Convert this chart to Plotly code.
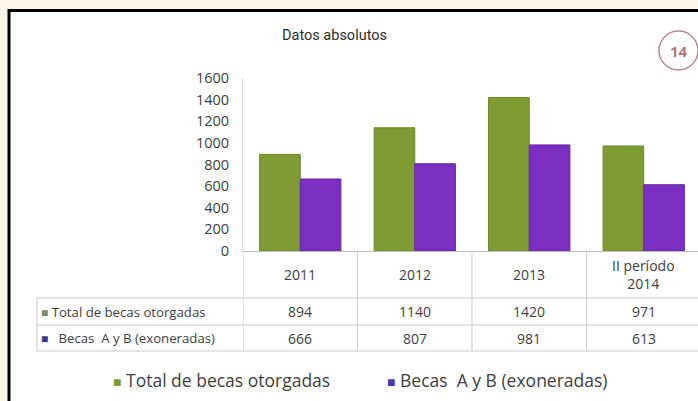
import plotly.graph_objects as go

# Data
years = ["2011", "2012", "2013", "II período<br>2014"]
total_becas = [894, 1140, 1420, 971]
becas_ab = [666, 807, 981, 613]
series_names = ["Total de becas otorgadas", "Becas&nbsp;&nbsp;A y B (exoneradas)"]
y_ticks = [0, 200, 400, 600, 800, 1000, 1200, 1400, 1600]

W, H = 698, 401
GREEN = "#7e9b34"
PURPLE = "#7a2fc1"
TEXT = "#404040"
GRID = "#c9c9c9"
FONT = "'Open Sans', Lato, sans-serif"


def py(px):
    """pixel row -> paper y"""
    return 1 - px / H


def px_x(px):
    return px / W


x_idx = list(range(len(years)))

fig = go.Figure()
fig.add_trace(go.Bar(
    x=x_idx, y=total_becas, name=series_names[0],
    marker=dict(color=GREEN, line=dict(color="#6c8a28", width=1)),
))
fig.add_trace(go.Bar(
    x=x_idx, y=becas_ab, name=series_names[1],
    marker=dict(color=PURPLE, line=dict(color="#6724a8", width=1)),
))

shapes = []
annotations = []

# white panel with black frame on the cream page
shapes.append(dict(type="rect", xref="paper", yref="paper",
                   x0=px_x(9), x1=px_x(W + 20), y0=py(H + 20), y1=py(10.5),
                   fillcolor="white", line=dict(color="black", width=3),
                   layer="below"))

# data table grid
row_lines = [298, 325, 351]
for r in row_lines:
    shapes.append(dict(type="line", xref="paper", yref="paper",
                       x0=px_x(37), x1=1, y0=py(r), y1=py(r),
                       line=dict(color=GRID, width=1)))
shapes.append(dict(type="line", xref="paper", yref="paper",
                   x0=px_x(37), x1=px_x(37), y0=py(298), y1=py(351),
                   line=dict(color=GRID, width=1)))
for k in range(len(years)):
    xb = k - 0.5
    shapes.append(dict(type="line", xref="x", yref="paper",
                       x0=xb, x1=xb, y0=py(251), y1=py(351),
                       line=dict(color=GRID, width=1)))

# header row: category names
for k, lab in enumerate(years):
    annotations.append(dict(
        x=k, y=py(274), xref="x", yref="paper", text=lab, showarrow=False,
        font=dict(family=FONT, size=14, color=TEXT),
        xanchor="center", yanchor="middle", align="center"))

# value rows
row_centers = [311.5, 338]
for vals, yc in zip([total_becas, becas_ab], row_centers):
    for k, v in enumerate(vals):
        annotations.append(dict(
            x=k, y=py(yc), xref="x", yref="paper", text=str(v),
            showarrow=False, font=dict(family=FONT, size=14, color=TEXT),
            xanchor="center", yanchor="middle"))

# row labels with legend keys
key_colors = ["#7d8c6a", "#3f3594"]
key_gaps = ["", "&nbsp;&nbsp;"]
for name, col, yc, gap in zip(series_names, key_colors, row_centers, key_gaps):
    annotations.append(dict(
        x=px_x(39), y=py(yc), xref="paper", yref="paper", showarrow=False,
        xanchor="left", yanchor="middle",
        text=f"<span style='color:{col};font-size:12px'>■</span>{gap} {name}",
        font=dict(family=FONT, size=13.2, color=TEXT)))

# legend below the table
legend_x = [111, 385]
for name, col, lx in zip(series_names, [GREEN, "#4a3aa8"], legend_x):
    annotations.append(dict(
        x=px_x(lx), y=py(380), xref="paper", yref="paper", showarrow=False,
        xanchor="left", yanchor="middle",
        text=f"<span style='color:{col};font-size:14px'>■</span> {name}",
        font=dict(family=FONT, size=17.5, color=TEXT)))

# title
annotations.append(dict(
    x=px_x(334), y=py(35), xref="paper", yref="paper", showarrow=False,
    text="Datos absolutos", xanchor="center", yanchor="middle",
    font=dict(family="Roboto, sans-serif", size=14.5, color="#2e2e2e")))

# page number badge
shapes.append(dict(type="circle", xref="paper", yref="paper",
                   x0=px_x(659), x1=px_x(698), y0=py(70), y1=py(31),
                   line=dict(color="#b98993", width=1.5), fillcolor="white"))
annotations.append(dict(
    x=px_x(679), y=py(51), xref="paper", yref="paper", showarrow=False,
    text="<b>14</b>", xanchor="center", yanchor="middle",
    font=dict(family="'Open Sans', sans-serif", size=15, color="#b07783")))

fig.update_layout(
    width=W, height=H,
    margin=dict(l=0, r=0, t=0, b=0, pad=0, autoexpand=False),
    paper_bgcolor="#fdf5e9",
    plot_bgcolor="rgba(0,0,0,0)",
    barmode="group", bargap=0.29, bargroupgap=0,
    shapes=shapes, annotations=annotations,
    showlegend=False,
    xaxis=dict(domain=[px_x(243), 1], range=[-0.5, 3.474],
               showticklabels=False, showgrid=False, zeroline=False,
               showline=True, linecolor="#bdbdbd", linewidth=1, ticks=""),
    yaxis=dict(domain=[py(251), py(78)], range=[0, 1600],
               tickvals=y_ticks, showgrid=False, zeroline=False,
               showline=True, linecolor="#e0e0e0", linewidth=1,
               ticks="", ticklabelstandoff=10,
               tickfont=dict(family=FONT, size=14.5, color=TEXT)),
)

fig.write_html("out.html")
